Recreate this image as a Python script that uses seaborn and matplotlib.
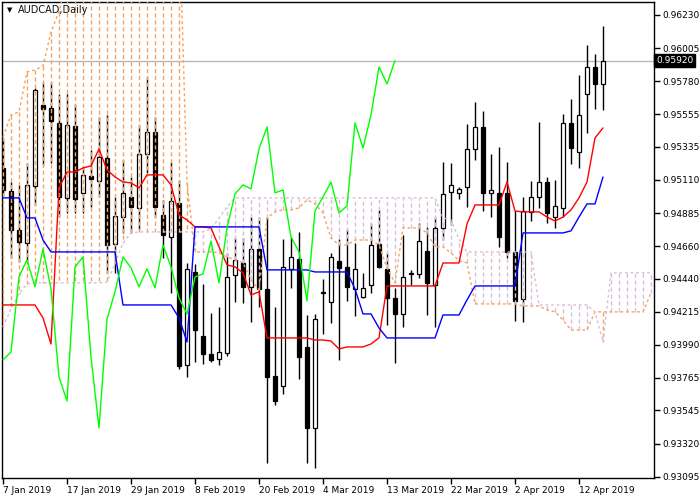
import numpy as np
import pandas as pd
import matplotlib
matplotlib.use("Agg")
import matplotlib.pyplot as plt
import matplotlib.transforms as mtransforms
import seaborn as sns

sns.set_theme(style="white")
plt.rcParams['font.family'] = ['DejaVu Sans']

# --- data (AUDCAD daily, 7 Jan .. 16 Apr 2019) ---
date_labels = ["7 Jan 2019", "17 Jan 2019", "29 Jan 2019", "8 Feb 2019", "20 Feb 2019",
               "4 Mar 2019", "13 Mar 2019", "22 Mar 2019", "2 Apr 2019", "12 Apr 2019"]

opens = [0.95192, 0.95035, 0.94770, 0.94682, 0.95069, 0.95619, 0.95599, 0.95497, 0.94988, 0.95476,
         0.95022, 0.95137, 0.95103, 0.95260, 0.94675, 0.94858, 0.94994, 0.94920, 0.95287, 0.95435,
         0.94872, 0.94723, 0.94954, 0.93854, 0.94485, 0.94050, 0.93928, 0.93894, 0.93935, 0.94465,
         0.94547, 0.94384, 0.94641, 0.94370, 0.93779, 0.93711, 0.94506, 0.94574, 0.93976, 0.93426,
         0.94343, 0.94282, 0.94560, 0.94519, 0.94370, 0.94316, 0.94397, 0.94675, 0.94506, 0.94309,
         0.94200, 0.94479, 0.94472, 0.94628, 0.94397, 0.94784, 0.95028, 0.95022, 0.95062, 0.95320,
         0.95470, 0.95022, 0.95022, 0.95022, 0.94621, 0.94302, 0.94893, 0.94994, 0.95096, 0.94858,
         0.94920, 0.95497, 0.95300, 0.95694, 0.95877, 0.95762]
highs = [0.95395, 0.95096, 0.95076, 0.95226, 0.95735, 0.95775, 0.95775, 0.95694, 0.95694, 0.95626,
         0.95205, 0.95314, 0.95537, 0.95551, 0.94994, 0.95246, 0.95130, 0.95483, 0.95809, 0.95537,
         0.94974, 0.95232, 0.95110, 0.94547, 0.94540, 0.94404, 0.94207, 0.94248, 0.94615, 0.94716,
         0.94716, 0.94858, 0.94858, 0.94858, 0.94248, 0.94709, 0.94723, 0.94757, 0.94193, 0.94200,
         0.94438, 0.94615, 0.94709, 0.94777, 0.94682, 0.94479, 0.94818, 0.94906, 0.94615, 0.94377,
         0.94736, 0.94499, 0.94818, 0.94791, 0.94858, 0.95232, 0.95225, 0.95062, 0.95490, 0.95639,
         0.95578, 0.95287, 0.95334, 0.95232, 0.94899, 0.94994, 0.95103, 0.95504, 0.95130, 0.95110,
         0.95558, 0.95660, 0.95823, 0.96026, 0.95965, 0.96155]
lows = [0.95001, 0.94581, 0.94553, 0.94553, 0.94940, 0.95212, 0.95226, 0.94858, 0.94886, 0.94886,
        0.94886, 0.94926, 0.94994, 0.94479, 0.94479, 0.94750, 0.94750, 0.94770, 0.95158, 0.94858,
        0.94581, 0.94343, 0.93827, 0.93772, 0.93874, 0.93861, 0.93874, 0.93854, 0.93915, 0.94282,
        0.94275, 0.94146, 0.94248, 0.93188, 0.93582, 0.93657, 0.94377, 0.93759, 0.93188, 0.93154,
        0.94064, 0.94139, 0.93888, 0.94288, 0.94187, 0.94309, 0.94343, 0.94513, 0.94125, 0.93867,
        0.94112, 0.94397, 0.94445, 0.94193, 0.94112, 0.94702, 0.94804, 0.94981, 0.94926, 0.95246,
        0.94899, 0.94858, 0.94655, 0.94581, 0.94152, 0.94146, 0.94831, 0.94920, 0.94818, 0.94784,
        0.94858, 0.95219, 0.95192, 0.95429, 0.95592, 0.95585]
closes = [0.95042, 0.94770, 0.94688, 0.95076, 0.95721, 0.95592, 0.95510, 0.94994, 0.95483, 0.94981,
          0.95144, 0.95117, 0.95266, 0.94668, 0.94865, 0.95022, 0.94926, 0.95287, 0.95435, 0.94926,
          0.94736, 0.94967, 0.93847, 0.94506, 0.94091, 0.93928, 0.93888, 0.93942, 0.94451, 0.94567,
          0.94384, 0.94641, 0.94370, 0.93772, 0.93609, 0.94519, 0.94587, 0.93908, 0.93426, 0.94166,
          0.94350, 0.94587, 0.94513, 0.94384, 0.94506, 0.94377, 0.94668, 0.94519, 0.94309, 0.94200,
          0.94451, 0.94472, 0.94695, 0.94411, 0.94784, 0.95015, 0.95076, 0.95049, 0.95320, 0.95470,
          0.95022, 0.95042, 0.94723, 0.94621, 0.94288, 0.94899, 0.94994, 0.95096, 0.94886, 0.94933,
          0.95497, 0.95327, 0.95551, 0.95877, 0.95762, 0.95920]

tenkan = [0.94261, 0.94261, 0.94261, 0.94261, 0.94261, 0.94173, 0.93996, 0.95056, 0.95164, 0.95164,
          0.95191, 0.95205, 0.95320, 0.95178, 0.95130, 0.95096, 0.95090, 0.95056, 0.95144, 0.95144,
          0.95144, 0.95076, 0.94872, 0.94838, 0.94791, 0.94791, 0.94784, 0.94655, 0.94533, 0.94519,
          0.94479, 0.94329, 0.94350, 0.94037, 0.94037, 0.94037, 0.94037, 0.94037, 0.94037, 0.94023,
          0.94023, 0.94016, 0.93962, 0.93976, 0.93976, 0.93976, 0.93996, 0.94037, 0.94390, 0.94390,
          0.94390, 0.94390, 0.94390, 0.94390, 0.94390, 0.94546, 0.94546, 0.94546, 0.94811, 0.94940,
          0.94940, 0.94940, 0.94940, 0.95096, 0.94899, 0.94893, 0.94893, 0.94893, 0.94858, 0.94831,
          0.94858, 0.94906, 0.94988, 0.95096, 0.95395, 0.95463]
kijun = ([0.94988] * 3 + [0.94852] * 2 + [0.94702] + [0.94621] * 9 + [0.94261] * 7
         + [0.94173, 0.94010] + [0.94791] * 9 + [0.94499] * 6 + [0.94485] * 5
         + [0.94370] + [0.94200] * 2 + [0.94105] + [0.94037] * 7 + [0.94193] * 3
         + [0.94295] + [0.94390] * 6 + [0.94750] * 6 + [0.94764, 0.94858]
         + [0.94947] * 2 + [0.95130])
span_a = ([0.95402, 0.95551, 0.95572, 0.95843, 0.95857, 0.95884, 0.96115, 0.96251, 0.96468]
          + [0.9662] * 13 + [0.9695, 0.95090] + [0.94621] * 3
          + [0.94615, 0.94587, 0.94567, 0.94547, 0.94431, 0.94363]
          + [0.94852, 0.94893, 0.94906, 0.94906, 0.94920, 0.94974, 0.94947, 0.94886,
             0.94716, 0.94668, 0.94668, 0.94702, 0.94702, 0.94702, 0.94668]
          + [0.94512, 0.94411]
          + [0.94784, 0.94784, 0.94784, 0.94750, 0.94655, 0.94655, 0.94615, 0.94560, 0.94547]
          + [0.94268] * 6 + [0.94254] * 3 + [0.94227, 0.94214, 0.94159]
          + [0.94091] * 3 + [0.94214] * 7 + [0.94343])
span_b = ([0.94111, 0.94234, 0.94336, 0.94404] + [0.94411] * 9 + [0.94417, 0.94540, 0.94682, 0.94750]
          + [0.94757] * 9 + [0.94777, 0.94852, 0.94926] + [0.94988] * 26
          + [0.94852, 0.94838, 0.94709] + [0.94621] * 9 + [0.94261] * 7
          + [0.94214, 0.94010] + [0.94479] * 6)

price_ticks = [0.96230, 0.96005, 0.95780, 0.95555, 0.95335, 0.95110, 0.94885, 0.94660,
               0.94440, 0.94215, 0.93990, 0.93765, 0.93545, 0.93320, 0.93095]
last_price = 0.95920
shift = 26

candles = pd.DataFrame({"open": opens, "high": highs, "low": lows, "close": closes})
candles["bar"] = np.arange(len(candles))
cloud = pd.DataFrame({"a": span_a, "b": span_b})
cloud["bar"] = np.arange(len(cloud))

fig = plt.figure(figsize=(7, 5), dpi=100)
ax = fig.add_axes([2 / 700, 22 / 500, 652 / 700, 476 / 500])
ax.set_facecolor("white")

ax.axhline(last_price, color="#b8b8b8", lw=1, zorder=1)

# candles
up = candles["close"] >= candles["open"]
ax.vlines(candles["bar"], candles["low"], candles["high"], color="black", lw=1, zorder=2)
body_lo = candles[["open", "close"]].min(axis=1)
body_h = (candles["close"] - candles["open"]).abs().clip(lower=0.00004)
ax.bar(candles["bar"], body_h, bottom=body_lo, width=0.62,
       color=np.where(up, "white", "black"), edgecolor="black", lw=0.9, zorder=2)

# kumo hatch
hatch_col = np.where(cloud["a"] >= cloud["b"], "#F4A460", "#D8BFD8")
ax.vlines(cloud["bar"], cloud["a"], cloud["b"], colors=hatch_col,
          linestyles=(0, (3, 2)), lw=1, zorder=3)

sns.lineplot(data=cloud, x="bar", y="a", ax=ax, color="#F4A460", lw=1,
             linestyle=(0, (2, 2)), estimator=None, zorder=4)
sns.lineplot(data=cloud, x="bar", y="b", ax=ax, color="#D8BFD8", lw=1,
             linestyle=(0, (2, 2)), estimator=None, zorder=4)

sns.lineplot(x=candles["bar"], y=tenkan, ax=ax, color="red", lw=1, estimator=None, zorder=5)
sns.lineplot(x=candles["bar"], y=kijun, ax=ax, color="blue", lw=1, estimator=None, zorder=5)
chikou = candles.iloc[shift:]
sns.lineplot(x=chikou["bar"] - shift, y=chikou["close"], ax=ax, color="#00FF00", lw=1,
             estimator=None, zorder=5)

ax.set_xlim(-0.125, 81.375)
ax.set_ylim(0.93086, 0.96318)
ax.set_xlabel("")
ax.set_ylabel("")

ax.yaxis.tick_right()
ax.set_yticks(price_ticks)
ax.set_yticklabels([f"{p:.5f}" for p in price_ticks])
ax.set_xticks(range(0, 8 * len(date_labels), 8))
ax.set_xticklabels(date_labels)
for lbl in ax.get_xticklabels():
    lbl.set_horizontalalignment("left")
ax.tick_params(axis="y", which="both", right=True, left=False, direction="out",
               length=4, width=1, color="black", labelsize=6.5, pad=2, labelcolor="black")
ax.tick_params(axis="x", which="both", bottom=True, direction="out",
               length=4, width=1, color="black", labelsize=6.5, pad=2, labelcolor="black")
for s in ax.spines.values():
    s.set_color("black")
    s.set_linewidth(1)

trans = mtransforms.blended_transform_factory(ax.transAxes, ax.transData)
ax.text(1.003, last_price, f"{last_price:.5f}", transform=trans, color="white",
        fontsize=6.5, ha="left", va="center",
        bbox=dict(boxstyle="square,pad=0.25", fc="black", ec="black"))

fig.text(7 / 700, 1 - 10 / 500, "\u25bc", fontsize=5, va="center", color="black")
fig.text(18 / 700, 1 - 10 / 500, "AUDCAD,Daily", fontsize=7, va="center", color="#111111")

fig.savefig("out.png", dpi=100, facecolor="white")
